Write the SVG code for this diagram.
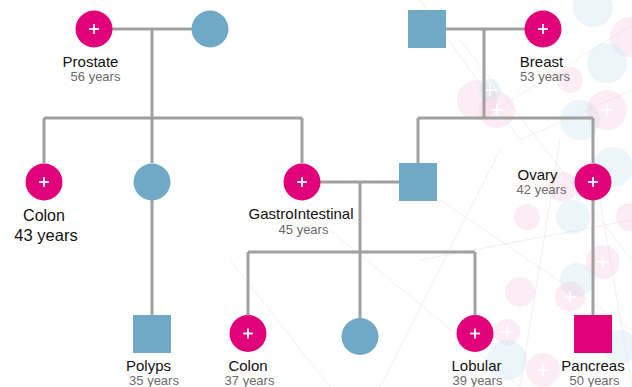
<svg xmlns="http://www.w3.org/2000/svg" width="632" height="387" viewBox="0 0 632 387">
<style>
.f{fill:#e2007a}
.m{fill:#70a9c5}
.ln{stroke:#a0a0a0;stroke-width:3;fill:none}
.pl{stroke:#fff;stroke-width:1.8}
.nm{font-family:"Liberation Sans",Arial,sans-serif;font-size:15px;fill:#111;text-anchor:middle}
.yr{font-family:"Liberation Sans",Arial,sans-serif;font-size:13px;fill:#6a6a6a;text-anchor:middle}
.bp{fill:#f7cfe2;opacity:0.4}
.bb{fill:#d3e9f5;opacity:0.45}
.bx{stroke:#fff;stroke-width:2;opacity:0.8}
.bl{stroke:#f1e9ef;stroke-width:0.8;fill:none}
</style>
<defs>
<g id="plus"><line class="pl" x1="-5" y1="0" x2="5" y2="0"/><line class="pl" x1="0" y1="-5" x2="0" y2="5"/></g>
<g id="bplus"><line class="bx" x1="-6" y1="0" x2="6" y2="0"/><line class="bx" x1="0" y1="-6" x2="0" y2="6"/></g>
</defs>
<rect width="632" height="387" fill="#fff"/>
<g id="background">
<path class="bl" d="M420 0 L520 140 L632 90 M460 40 L632 260 M500 150 L380 387 M440 200 L632 330 M330 230 L520 387 M560 140 L520 387 M600 200 L632 387 M230 260 L330 387 M420 260 L632 220 M640 20 L480 120"/>
<circle class="bb" cx="593" cy="7" r="20"/>
<circle class="bp" cx="630" cy="37" r="20"/>
<circle class="bb" cx="607" cy="63" r="20"/>
<circle class="bp" cx="570" cy="80" r="13"/>
<circle class="bp" cx="477" cy="100" r="20"/>
<circle class="bp" cx="497" cy="110" r="18"/><use href="#bplus" x="497" y="110"/>
<circle class="bb" cx="490" cy="90" r="11"/><use href="#bplus" x="490" y="90"/>
<circle class="bb" cx="580" cy="120" r="20"/>
<circle class="bp" cx="607" cy="110" r="20"/><use href="#bplus" x="607" y="110"/>
<circle class="bb" cx="613" cy="167" r="20"/>
<circle class="bp" cx="563" cy="187" r="15"/>
<circle class="bp" cx="527" cy="217" r="13"/>
<circle class="bb" cx="573" cy="217" r="17"/>
<circle class="bp" cx="630" cy="217" r="14"/>
<circle class="bp" cx="603" cy="262" r="17"/><use href="#bplus" x="603" y="262"/>
<circle class="bb" cx="577" cy="280" r="17"/>
<circle class="bp" cx="570" cy="297" r="15"/><use href="#bplus" x="570" y="297"/>
<circle class="bp" cx="520" cy="292" r="15"/>
<circle class="bp" cx="507" cy="332" r="13"/><use href="#bplus" x="507" y="332"/>
<circle class="bb" cx="507" cy="360" r="20"/>
<circle class="bp" cx="543" cy="370" r="17"/><use href="#bplus" x="543" y="370"/>
<circle class="bb" cx="620" cy="347" r="17"/>
</g>
<g id="connectors">
<path class="ln" d="M112 29 H192 M152 29 V118 M44 118 H302 M44 118 V163 M152 118 V163 M302 118 V163 M152 200 V315"/>
<path class="ln" d="M446 29 H525 M484 29 V118 M418 118 H593 M418 118 V163 M593 118 V163 M593 200 V315"/>
<path class="ln" d="M320 182 H399 M360 182 V252 M248 252 H475 M248 252 V315 M360 252 V318 M475 252 V315"/>
</g>
<g id="prostate"><circle class="f" cx="94" cy="29" r="18.5"/><use href="#plus" x="94" y="29"/><text class="nm" x="90.5" y="66.5">Prostate</text><text class="yr" x="95.5" y="80.5">56 years</text></g>
<g id="grandmother"><circle class="m" cx="210" cy="29" r="18.5"/></g>
<g id="grandfather"><rect class="m" x="408" y="10" width="38" height="38"/></g>
<g id="breast"><circle class="f" cx="543" cy="29" r="18.5"/><use href="#plus" x="543" y="29"/><text class="nm" x="541.5" y="66.5">Breast</text><text class="yr" x="545" y="80.5">53 years</text></g>
<g id="colon1"><circle class="f" cx="44" cy="182" r="18.5"/><use href="#plus" x="44" y="182"/><text class="nm" x="44" y="220.5" style="font-size:16px">Colon</text><text class="nm" x="46" y="241" style="font-size:16.5px">43 years</text></g>
<g id="aunt"><circle class="m" cx="152" cy="182" r="18.5"/></g>
<g id="gastro"><circle class="f" cx="302" cy="182" r="18.5"/><use href="#plus" x="302" y="182"/><text class="nm" x="301" y="219">GastroIntestinal</text><text class="yr" x="303.5" y="233.5">45 years</text></g>
<g id="father"><rect class="m" x="399" y="163" width="38" height="38"/></g>
<g id="ovary"><circle class="f" cx="593" cy="182" r="18.5"/><use href="#plus" x="593" y="182"/><text class="nm" x="537.5" y="179.5">Ovary</text><text class="yr" x="541.5" y="193.5">42 years</text></g>
<g id="polyps"><rect class="m" x="133" y="315" width="38" height="38"/><text class="nm" x="148.5" y="371">Polyps</text><text class="yr" x="154" y="385">35 years</text></g>
<g id="colon2"><circle class="f" cx="248" cy="333.5" r="18.5"/><use href="#plus" x="248" y="333.5"/><text class="nm" x="248" y="371">Colon</text><text class="yr" x="249.5" y="385">37 years</text></g>
<g id="sibling"><circle class="m" cx="360" cy="336.5" r="18.5"/></g>
<g id="lobular"><circle class="f" cx="475" cy="333.5" r="18.5"/><use href="#plus" x="475" y="333.5"/><text class="nm" x="476.5" y="371">Lobular</text><text class="yr" x="477.5" y="385">39 years</text></g>
<g id="pancreas"><rect class="f" x="574" y="315" width="38" height="38"/><text class="nm" x="593" y="371">Pancreas</text><text class="yr" x="594.5" y="385">50 years</text></g>
</svg>
